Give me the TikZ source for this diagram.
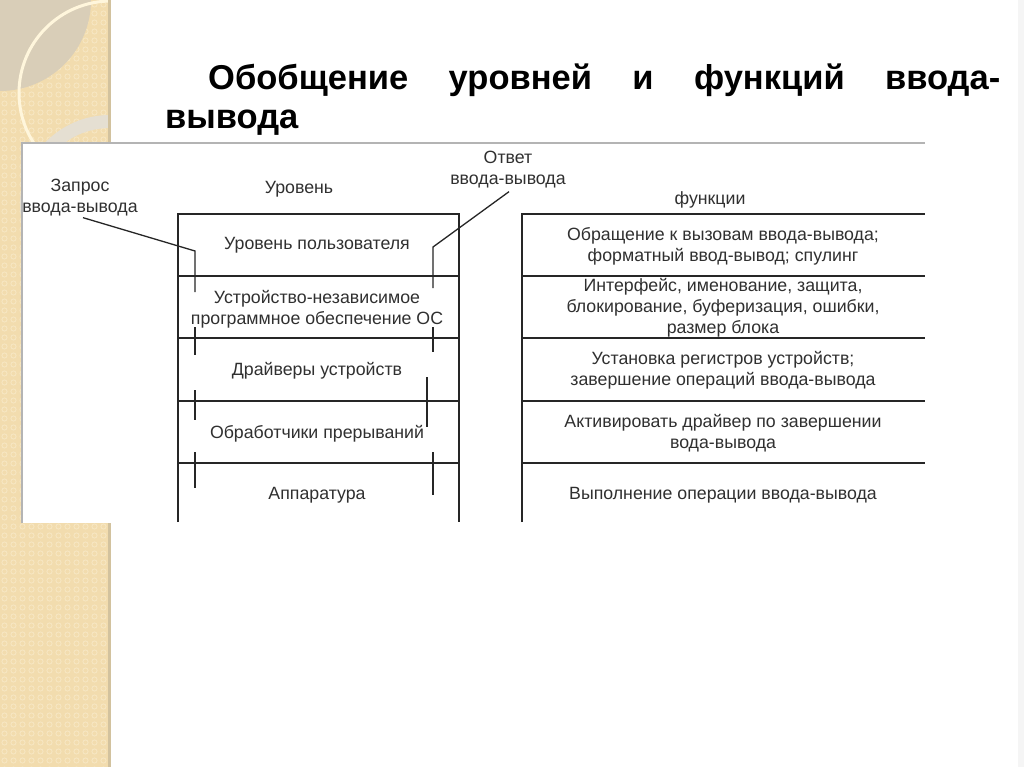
\documentclass[tikz,border=0pt]{standalone}
\usepackage{fontspec}
\setmainfont{Liberation Sans}
\definecolor{beige}{HTML}{F2DCAE}
\definecolor{patc}{HTML}{F7E7C4}
\definecolor{greyd}{HTML}{D9CEB8}
\definecolor{ringc}{HTML}{E5DFD2}
\definecolor{creamc}{HTML}{FFF6DC}
\definecolor{shadowc}{HTML}{D2C29E}
\definecolor{bordc}{HTML}{B4B4B4}
\definecolor{linec}{HTML}{262626}
\definecolor{txtc}{HTML}{303030}
\begin{document}
\begin{tikzpicture}[x=1pt,y=-1pt,
  lbl/.style={font=\fontsize{17.75}{21}\selectfont, text=txtc, align=center, inner sep=0pt},
  tline/.style={draw=linec, line width=1.8pt},
  conn/.style={draw=linec, line width=1.3pt},
  ttl/.style={font=\fontsize{34.5}{41}\selectfont\bfseries, inner sep=0pt, anchor=base west}]
\useasboundingbox (0,0) rectangle (1024,767);
\fill[white] (0,0) rectangle (1024,767);
% left decorative strip
\fill[beige] (0,0) rectangle (111,767);
\begin{scope}
  \clip (0,0) rectangle (109,767);
  \foreach \i in {0,...,12} \foreach \j in {0,...,85}
    \draw[patc, line width=0.8pt] (\i*9+4.5, \j*9+4.5) circle (2.6);
  \fill[greyd] (0,0) circle (91);
  \fill[ringc, even odd rule] (110,205) circle (90) (110,205) circle (77);
  \draw[creamc, line width=3pt] (111,93) circle (92);
\end{scope}
\fill[shadowc] (108,0) rectangle (111,767);
\fill[gray!8] (1018,0) rectangle (1024,767);
% title
\node[ttl] (t1) at (208,90) {\makebox[792pt][s]{Обобщение уровней и функций ввода-}};
\node[ttl] (t2) at (165,129) {вывода};
% pasted diagram area
\fill[white] (22,143) rectangle (925,523);
\draw[bordc, line width=1.2pt] (22,523) -- (22,143) -- (925,143);
% left table
\draw[tline] (178,522) -- (178,214) -- (459,214) -- (459,522);
\foreach \y in {276,338,401,463} \draw[tline] (178,\y) -- (459,\y);
% right table
\draw[tline] (522,522) -- (522,214) -- (925,214);
\foreach \y in {276,338,401,463} \draw[tline] (522,\y) -- (925,\y);
% headers
\node[lbl] (hlev) at (299,189) {Уровень};
\node[lbl] (hfun) at (710,200) {функции};
\node[lbl] (req) at (80,198) {Запрос\\ввода-вывода};
\node[lbl] (resp) at (508,170) {Ответ\\ввода-вывода};
% level texts
\node[lbl] (l1) at (317,245) {Уровень пользователя};
\node[lbl] (l2) at (317,309) {Устройство-независимое\\программное обеспечение ОС};
\node[lbl] (l3) at (317,371) {Драйверы устройств};
\node[lbl] (l4) at (317,434) {Обработчики прерываний};
\node[lbl] (l5) at (317,495) {Аппаратура};
% function texts
\node[lbl] (f1) at (723,246) {Обращение к вызовам ввода-вывода;\\форматный ввод-вывод; спулинг};
\node[lbl] (f2) at (723,308) {Интерфейс, именование, защита,\\блокирование, буферизация, ошибки,\\размер блока};
\node[lbl] (f3) at (723,370) {Установка регистров устройств;\\завершение операций ввода-вывода};
\node[lbl] (f4) at (723,433) {Активировать драйвер по завершении\\вода-вывода};
\node[lbl] (f5) at (723,495) {Выполнение операции ввода-вывода};
% request path (down the left side)
\coordinate (qa) at (195,251);
\coordinate (qb) at (195,292);
\coordinate (qc1) at (195,327); \coordinate (qc2) at (195,355);
\coordinate (qd1) at (195,390); \coordinate (qd2) at (195,420);
\coordinate (qe1) at (195,452); \coordinate (qe2) at (195,488);
\draw[conn] ([xshift=3pt,yshift=-1pt]req.south) -- (qa) -- (qb);
\draw[conn] (qc1) -- (qc2);
\draw[conn] (qd1) -- (qd2);
\draw[conn] (qe1) -- (qe2);
% response path (up the right side)
\coordinate (ra) at (433,247);
\coordinate (rb) at (433,288);
\coordinate (rc1) at (433,327); \coordinate (rc2) at (433,352);
\coordinate (rd1) at (427,377); \coordinate (rd2) at (427,427);
\coordinate (re1) at (433,452); \coordinate (re2) at (433,495);
\draw[conn] ([xshift=1pt,yshift=-3pt]resp.south) -- (ra) -- (rb);
\draw[conn] (rc1) -- (rc2);
\draw[conn] (rd1) -- (rd2);
\draw[conn] (re1) -- (re2);
\end{tikzpicture}
\end{document}
